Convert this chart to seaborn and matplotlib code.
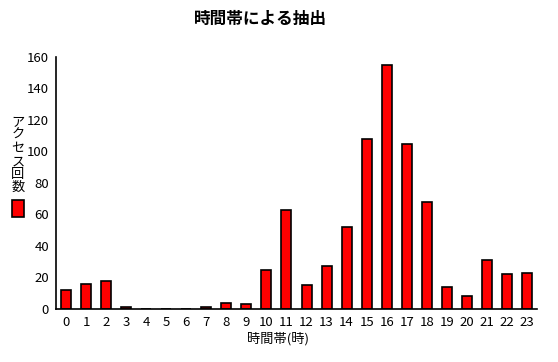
import matplotlib
matplotlib.use("Agg")
import matplotlib.pyplot as plt
import seaborn as sns
import pandas as pd
from matplotlib.patches import Rectangle

hours = [str(h) for h in range(24)]
counts = [12, 16, 18, 1, 0, 0, 0, 1, 4, 3, 25, 63, 15, 27, 52, 108, 155, 105, 68, 14, 8, 31, 22, 23]
yticks = [0, 20, 40, 60, 80, 100, 120, 140, 160]
title = "時間帯による抽出"
xlabel = "時間帯(時)"
legend_label = "アクセス回数"

sns.set_theme(style="white")
plt.rcParams['font.family'] = ['Noto Sans CJK JP', 'DejaVu Sans']
plt.rcParams['text.color'] = 'black'

df = pd.DataFrame({"hour": hours, "count": counts})

fig = plt.figure(figsize=(5.58, 3.62), dpi=100)
ax = fig.add_axes([56/558, 1-309/362, (537-56)/558, (309-57)/362])
sns.barplot(data=df, x="hour", y="count", color="#ff0000", width=0.5,
            edgecolor="black", linewidth=1.2, saturation=1, ax=ax)
ax.set_xlim(-0.5, 23.5)
ax.set_ylim(0, 160)
ax.set_yticks(yticks)
ax.set_yticklabels([str(t) for t in yticks])
ax.set_xlabel("")
ax.set_ylabel("")
for s in ["top", "right"]:
    ax.spines[s].set_visible(False)
for s in ["left", "bottom"]:
    ax.spines[s].set_color("black")
    ax.spines[s].set_linewidth(1.2)
ax.tick_params(axis="both", direction="inout", length=6, width=1.2, colors="black",
               labelcolor="black", labelsize=9.5, pad=2)
ax.set_xticks(list(range(24)))
fig.text(278/558, 1-339/362, xlabel, ha="center", va="center", fontsize=9.5, color="black")
fig.text(260/558, 1-19/362, title, ha="center", va="center", fontsize=12, fontweight="bold", color="black")
fig.text(18/558, 1-155/362, "\n".join(legend_label), ha="center", va="center", fontsize=9.5,
         linespacing=1.0, color="black")
fig.patches.append(Rectangle((12/558, 1-217/362), 12/558, 17/362, transform=fig.transFigure,
                             facecolor="#ff0000", edgecolor="black", linewidth=1.2))
fig.savefig("out.png", dpi=100)
